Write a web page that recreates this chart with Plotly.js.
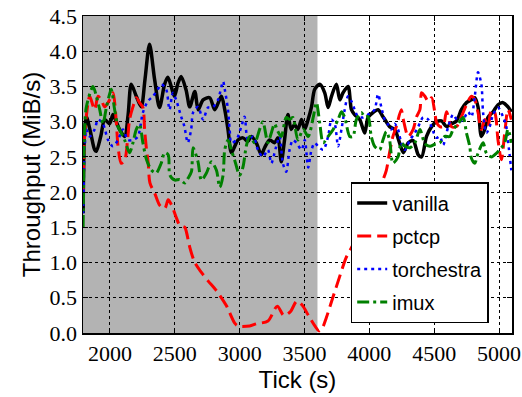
<!DOCTYPE html>
<html>
<head>
<meta charset="utf-8">
<script src="https://cdn.plot.ly/plotly-3.0.1.min.js"></script>
<style>html,body{margin:0;padding:0;background:#fff;}#chart{width:522px;height:397px;}</style>
</head>
<body>
<div id="chart"></div>
<script>
const shadeStart = 1792;
const shadeEnd = 3600;

const vanillaX = [1793,1805,1818,1850,1882,1895,1930,1959,1997,2023,2049,2074,2113,2140,2164,2203,2241,2270,2305,2344,2382,2421,2446,2472,2497,2525,2549,2587,2615,2654,2680,2718,2769,2808,2859,2885,2910,2936,2962,2987,3026,3064,3090,3128,3167,3192,3231,3269,3295,3321,3346,3372,3397,3423,3449,3477,3502,3528,3554,3579,3618,3656,3682,3708,3746,3772,3797,3836,3862,3887,3926,3964,3990,4028,4067,4105,4130,4156,4195,4233,4262,4300,4338,4377,4403,4441,4480,4518,4556,4595,4633,4672,4710,4749,4787,4813,4838,4864,4890,4915,4954,4992,5031,5069,5095];
const vanillaY = [1.7,2.9,3.07,2.85,2.6,2.58,2.8,3.03,2.97,3.1,3.0,2.89,2.79,3.1,3.53,3.36,3.21,3.6,4.1,3.6,3.2,3.53,3.63,3.5,3.36,3.55,3.64,3.45,3.21,3.43,3.17,3.31,3.34,3.17,3.36,3.17,2.89,2.56,2.65,2.74,2.77,2.72,2.79,2.70,2.53,2.63,2.74,2.70,2.77,2.43,2.74,3.10,2.89,2.96,2.89,3.03,2.89,3.03,3.21,3.46,3.53,3.41,3.2,3.36,3.53,3.31,3.41,3.5,3.17,3.1,3.03,2.84,3.06,3.13,3.17,3.07,3.0,2.93,2.89,2.7,2.56,2.7,2.73,2.53,2.5,2.79,2.93,3.0,3.01,2.93,2.97,3.01,3.17,3.27,3.31,3.34,3.21,2.79,2.89,3.06,3.14,3.24,3.27,3.21,3.14];

const pctcpX = [1793,1805,1831,1844,1882,1908,1933,1959,1997,2023,2049,2062,2087,2113,2138,2151,2177,2203,2228,2254,2267,2279,2295,2308,2346,2385,2423,2449,2474,2513,2538,2577,2590,2615,2654,2705,2756,2821,2897,2962,2987,3077,3128,3218,3290,3340,3390,3440,3480,3530,3580,3612,3640,3667,3718,3769,3821,3859,3900,3950,4000,4050,4100,4131,4156,4182,4208,4246,4262,4300,4338,4364,4390,4403,4428,4454,4480,4505,4518,4544,4569,4595,4633,4672,4710,4749,4787,4813,4838,4864,4890,4915,4941,4967,4992,5018,5044,5069,5095];
const pctcpY = [1.9,2.8,3.27,3.36,3.17,3.36,3.31,3.21,3.31,3.41,2.99,2.65,2.41,2.45,2.79,3.03,3.21,3.34,3.27,3.2,2.89,2.65,2.41,2.13,1.98,1.81,1.77,1.89,1.82,1.63,1.53,1.5,1.43,1.22,1.0,0.86,0.74,0.6,0.39,0.14,0.1,0.1,0.13,0.17,0.38,0.25,0.3,0.45,0.4,0.25,0.1,0.03,0.08,0.21,0.5,0.79,1.07,1.2,1.35,1.55,1.75,1.95,2.15,2.31,2.56,2.79,2.93,3.17,3.03,2.79,2.89,3.07,3.17,3.41,3.36,3.29,3.34,3.13,2.99,2.93,2.93,3.14,2.93,2.93,3.07,3.24,3.36,3.31,3.13,2.89,3.03,2.93,3.17,3.13,2.74,2.46,2.84,3.17,3.03];

const torchestraX = [1793,1805,1818,1844,1882,1908,1946,1985,2023,2062,2100,2138,2177,2215,2254,2292,2331,2369,2395,2433,2459,2485,2510,2549,2574,2600,2626,2641,2679,2718,2756,2795,2833,2872,2885,2910,2923,2936,2974,3013,3038,3064,3103,3141,3179,3218,3244,3282,3308,3333,3359,3385,3410,3438,3477,3502,3528,3554,3579,3605,3644,3682,3708,3733,3759,3785,3810,3836,3862,3887,3913,3951,3990,4015,4041,4067,4092,4118,4144,4169,4195,4221,4246,4274,4313,4351,4377,4415,4454,4492,4518,4544,4569,4608,4646,4685,4723,4762,4787,4813,4838,4864,4877,4903,4928,4954,4992,5031,5056,5077,5095];
const torchestraY = [1.7,2.6,2.89,2.79,2.89,3.03,2.97,2.74,2.65,2.74,2.89,2.74,2.74,2.79,3.13,3.29,3.36,3.46,3.53,3.46,3.17,3.41,3.31,3.07,2.93,2.7,2.89,3.13,3.21,3.03,3.2,3.21,3.31,3.57,3.46,3.17,2.89,2.7,2.74,2.93,3.07,2.74,2.79,2.6,2.5,2.6,2.41,2.65,2.79,2.41,2.29,2.6,2.74,2.7,2.6,2.74,2.35,2.6,2.7,2.65,2.6,2.79,3.03,2.97,2.65,2.89,3.17,3.36,3.29,3.17,3.07,3.06,3.1,3.13,3.17,3.39,3.21,3.03,2.96,2.89,2.97,2.89,2.7,2.6,2.74,2.84,2.93,3.06,3.03,2.86,2.77,2.79,2.67,2.93,3.1,3.0,3.03,3.14,3.07,3.36,3.7,3.53,3.13,2.84,2.93,3.1,3.2,3.07,2.93,2.6,2.31];

const imuxX = [1793,1805,1818,1869,1895,1921,1946,1972,1997,2010,2036,2062,2087,2113,2151,2177,2203,2228,2254,2282,2321,2356,2395,2421,2449,2462,2500,2538,2577,2603,2628,2641,2679,2705,2744,2782,2821,2846,2872,2885,2910,2936,2962,3000,3026,3051,3077,3115,3154,3179,3218,3244,3269,3295,3321,3359,3385,3410,3449,3490,3528,3567,3592,3618,3644,3682,3721,3759,3785,3810,3849,3874,3900,3938,3964,3990,4015,4041,4079,4105,4131,4156,4182,4221,4246,4274,4313,4351,4390,4428,4467,4505,4544,4582,4621,4646,4685,4723,4749,4774,4787,4813,4838,4877,4903,4941,4979,5018,5044,5069,5095];
const imuxY = [1.5,2.9,3.21,3.5,3.36,3.17,2.97,3.2,3.39,3.46,3.17,2.93,2.84,2.74,2.56,2.7,2.89,2.96,2.7,2.46,2.31,2.27,2.41,2.56,2.53,2.24,2.17,2.18,2.13,2.2,2.29,2.63,2.43,2.17,2.27,2.43,2.31,2.07,2.24,2.6,2.74,2.6,2.45,2.24,2.36,2.65,2.79,2.7,2.89,3.0,2.7,2.84,2.97,2.86,2.79,3.06,3.03,3.06,2.74,2.89,2.79,3.06,3.27,2.97,2.7,2.79,2.89,3.03,3.14,3.06,2.79,2.79,3.03,3.13,3.07,3.07,2.79,2.65,2.6,2.74,2.86,2.74,2.41,2.5,2.7,2.65,2.63,2.7,2.89,2.69,2.65,2.68,2.7,2.79,2.79,2.89,2.97,3.06,2.84,2.65,2.48,2.41,2.55,2.7,2.55,2.5,2.55,2.63,2.7,2.89,2.7];

const seriesNames = ['vanilla','pctcp','torchestra','imux'];

const traces = [
  {x: vanillaX, y: vanillaY, name: seriesNames[0], legendgroup: 'g1', mode: 'lines',
   line: {color: '#000000', width: 3.5, shape: 'spline', smoothing: 0.8}},
  {x: pctcpX, y: pctcpY, name: seriesNames[1], legendgroup: 'g2', mode: 'lines',
   line: {color: '#ff0000', width: 3, dash: '14px,6px', shape: 'spline', smoothing: 0.8}},
  {x: torchestraX, y: torchestraY, name: seriesNames[2], legendgroup: 'g3', mode: 'lines',
   line: {color: '#0000ff', width: 2.5, dash: '3px,4px', shape: 'spline', smoothing: 0.8}},
  {x: imuxX, y: imuxY, name: seriesNames[3], legendgroup: 'g4', mode: 'lines',
   line: {color: '#008000', width: 3, dash: '12px,4px,3px,4px', shape: 'spline', smoothing: 0.8}}
];

const tickFont = {family: '"Liberation Serif", serif', size: 22, color: '#000'};
const titleFont = {family: '"Liberation Sans", Arial, sans-serif', size: 24, color: '#000'};

const layout = {
  width: 522, height: 397,
  margin: {l: 83, r: 10, t: 16, b: 64, pad: 0},
  paper_bgcolor: '#ffffff', plot_bgcolor: '#ffffff',
  showlegend: true,
  legend: {
    x: 0.624, y: 0.0315, xanchor: 'left', yanchor: 'bottom',
    bgcolor: '#ffffff', bordercolor: '#000000', borderwidth: 1.5,
    font: {family: '"Liberation Sans", Arial, sans-serif', size: 20, color: '#000'},
    tracegroupgap: 4, traceorder: 'grouped'
  },
  xaxis: {
    range: [1792, 5100], tick0: 0, dtick: 500, tickformat: 'd',
    ticks: 'inside', ticklen: 5, tickwidth: 1, tickcolor: '#000',
    mirror: 'ticks', showline: true, linecolor: '#000', linewidth: 1.5,
    showgrid: true, gridcolor: '#000', gridwidth: 1, griddash: 'dot',
    zeroline: false, tickfont: tickFont,
    title: {text: 'Tick (s)', font: titleFont, standoff: 6}
  },
  yaxis: {
    range: [0, 4.5], tick0: 0, dtick: 0.5, tickformat: '.1f',
    ticks: 'inside', ticklen: 5, tickwidth: 1, tickcolor: '#000',
    mirror: 'ticks', showline: true, linecolor: '#000', linewidth: 1.5,
    showgrid: true, gridcolor: '#000', gridwidth: 1, griddash: 'dot',
    zeroline: false, tickfont: tickFont,
    title: {text: 'Throughput (MiB/s)', font: titleFont, standoff: 2}
  },
  shapes: [{
    type: 'rect', xref: 'x', yref: 'paper', x0: shadeStart, x1: shadeEnd, y0: 0, y1: 1,
    fillcolor: '#b3b3b3', line: {width: 0}, layer: 'below'
  }]
};

Plotly.newPlot('chart', traces, layout, {displayModeBar: false, staticPlot: true});
</script>
</body>
</html>
